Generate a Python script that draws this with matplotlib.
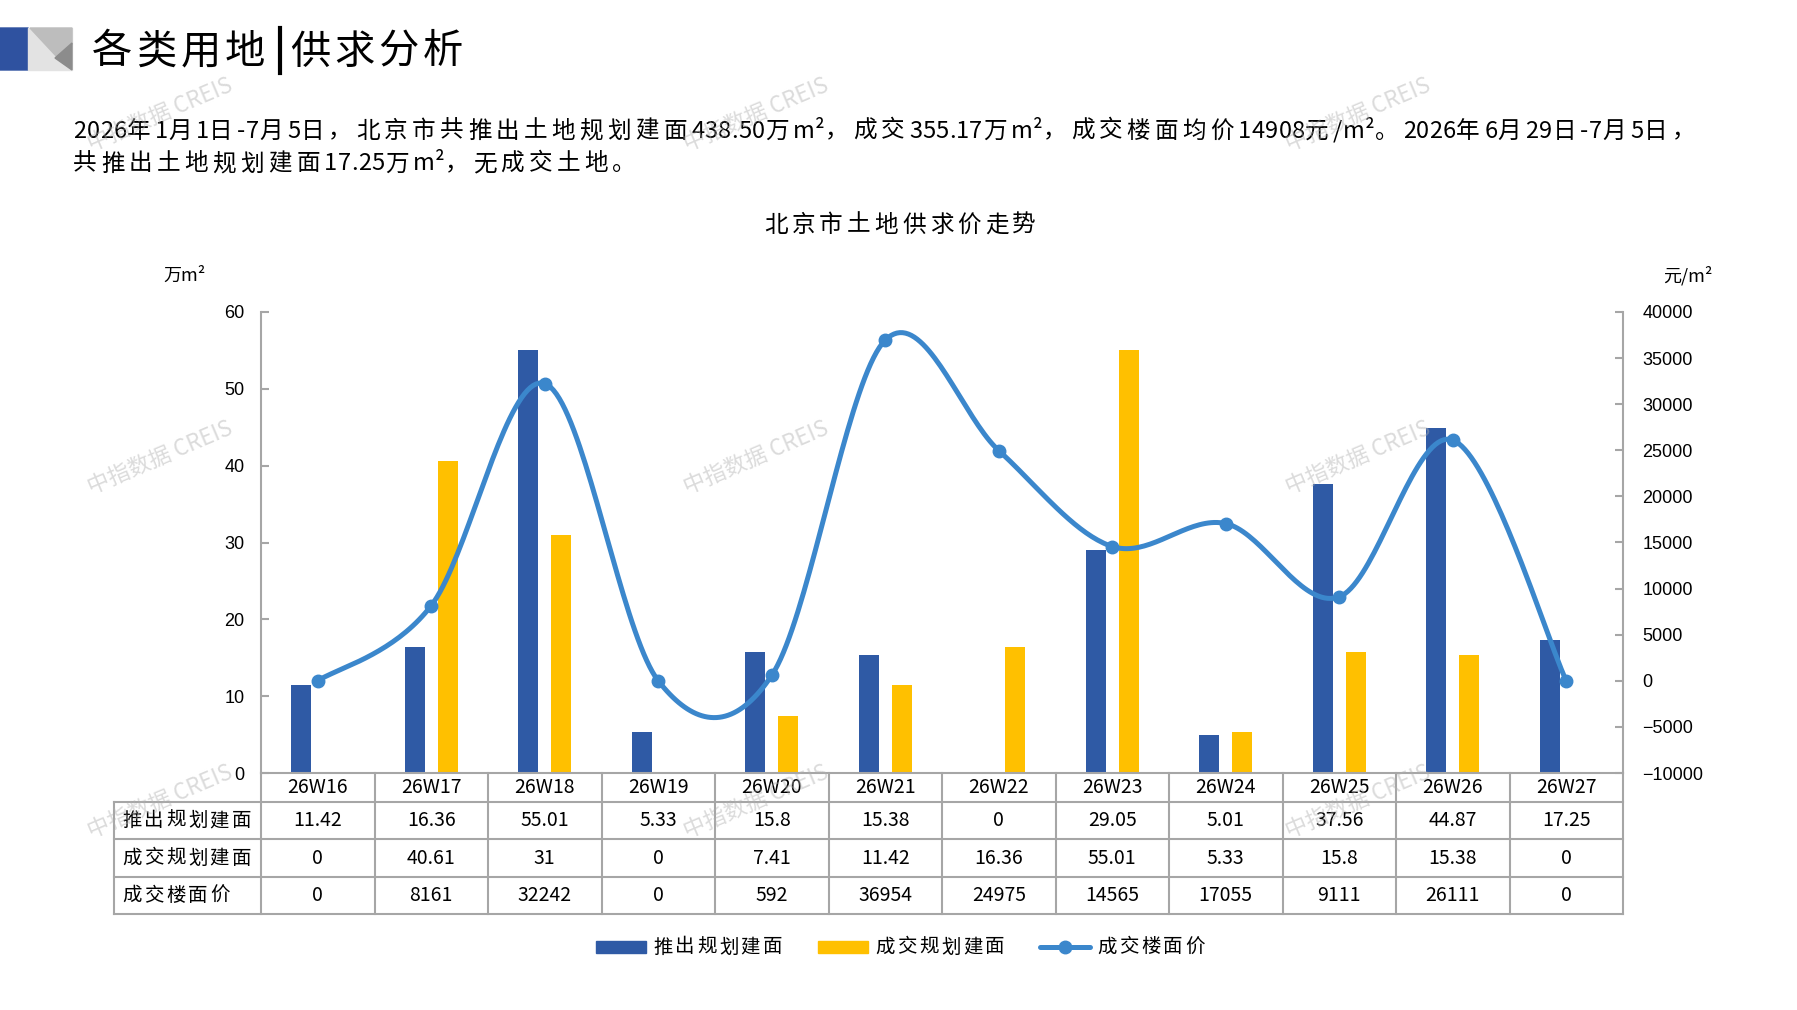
import numpy as np
import matplotlib
matplotlib.use('Agg')
import matplotlib.pyplot as plt
from matplotlib.patches import Polygon, Rectangle
from matplotlib import font_manager
from matplotlib.ft2font import FT2Font
from matplotlib.transforms import blended_transform_factory

plt.rcParams['font.family'] = ['Noto Sans CJK SC', 'DejaVu Sans']

# 数据
weeks = ['26W16', '26W17', '26W18', '26W19', '26W20', '26W21',
         '26W22', '26W23', '26W24', '26W25', '26W26', '26W27']
supply_area = [11.42, 16.36, 55.01, 5.33, 15.8, 15.38, 0, 29.05, 5.01, 37.56, 44.87, 17.25]
deal_area = [0, 40.61, 31, 0, 7.41, 11.42, 16.36, 55.01, 5.33, 15.8, 15.38, 0]
deal_price = [0, 8161, 32242, 0, 592, 36954, 24975, 14565, 17055, 9111, 26111, 0]
row_labels = ['推出规划建面', '成交规划建面', '成交楼面价']
series_names = ['推出规划建面', '成交规划建面', '成交楼面价']

title_left = '各类用地'
title_right = '供求分析'
para_1 = '2026年1月1日-7月5日，北京市共推出土地规划建面438.50万m²，成交355.17万m²，成交楼面均价14908元/m²。2026年6月29日-7月5日，'
para_2 = '共推出土地规划建面17.25万m²，无成交土地。'
chart_title = '北京市土地供求价走势'

c_blue = '#2F5AA5'
c_yellow = '#FFC000'
c_line = '#3B87CC'
c_grid = '#A6A6A6'

W, H = 1797, 1010
DPI = 100
fig = plt.figure(figsize=(W / DPI, H / DPI), dpi=DPI)

# 主图位置（像素）
ax_l, ax_r, ax_t, ax_b = 261, 1623, 312, 773
ax = fig.add_axes([ax_l / W, 1 - ax_b / H, (ax_r - ax_l) / W, (ax_b - ax_t) / H])
ax2 = ax.twinx()

x = np.arange(len(weeks))
bw = 0.176
off = 0.145
ax.bar(x - off, supply_area, width=bw, color=c_blue, zorder=2)
ax.bar(x + off, deal_area, width=bw, color=c_yellow, zorder=2)
ax.set_xlim(-0.5, len(weeks) - 0.5)
ax.set_ylim(0, 60)
ax.set_yticks(range(0, 61, 10))
ax.set_xticks([])


# 平滑曲线 (Catmull-Rom)
def smooth(xs, ys, n=40):
    xs = np.asarray(xs, float)
    ys = np.asarray(ys, float)
    px = np.concatenate([[xs[0]], xs, [xs[-1]]])
    py = np.concatenate([[ys[0]], ys, [ys[-1]]])
    out_x, out_y = [], []
    t = np.linspace(0, 1, n)
    for i in range(1, len(px) - 2):
        p0 = np.array([px[i], py[i]])
        p3 = np.array([px[i + 1], py[i + 1]])
        c1 = p0 + (p3 - np.array([px[i - 1], py[i - 1]])) / 6
        c2 = p3 - (np.array([px[i + 2], py[i + 2]]) - p0) / 6
        b = ((1 - t) ** 3)[:, None] * p0 + (3 * (1 - t) ** 2 * t)[:, None] * c1 \
            + (3 * (1 - t) * t ** 2)[:, None] * c2 + (t ** 3)[:, None] * p3
        out_x.extend(b[:, 0])
        out_y.extend(b[:, 1])
    return out_x, out_y


sx, sy = smooth(x, deal_price)
ax2.plot(sx, sy, color=c_line, lw=3.6, solid_capstyle='round', zorder=3)
ax2.plot(x, deal_price, 'o', color=c_line, ms=9, zorder=4)
ax2.set_ylim(-10000, 40000)
ax2.set_yticks(range(-10000, 40001, 5000))

for a in (ax, ax2):
    a.spines['top'].set_visible(False)
    for s in a.spines.values():
        s.set_color(c_grid)
        s.set_linewidth(1.5)
ax.spines['right'].set_visible(False)
ax2.spines['left'].set_visible(False)
ax2.spines['bottom'].set_visible(False)
ax.tick_params(axis='y', direction='in', length=6, width=1.5, color=c_grid,
               labelsize=13, pad=12)
ax2.tick_params(axis='y', direction='in', length=6, width=1.5, color=c_grid,
                labelsize=13, pad=14)
for lab in ax.get_yticklabels() + ax2.get_yticklabels():
    lab.set_fontfamily('Liberation Sans')

# 覆盖层（像素坐标）
ov = fig.add_axes([0, 0, 1, 1], zorder=5)
ov.set_xlim(0, W)
ov.set_ylim(H, 0)
ov.axis('off')
tr = blended_transform_factory(ax.transData, ov.transData)

# 字距加宽的文字
cjk_font = FT2Font(font_manager.findfont('Noto Sans CJK SC'))


def advance(ch, size):
    cjk_font.set_size(size, DPI)
    g = cjk_font.load_char(ord(ch))
    return g.linearHoriAdvance / 65536


def spaced(x0, y0, s, size, gap_cjk, gap_other=0.0, align='left', **kw):
    gaps = [gap_cjk if ord(c) > 0x2E80 else gap_other for c in s]
    widths = [advance(c, size) for c in s]
    total = sum(widths) + sum(gaps[:-1])
    if align == 'center':
        x0 -= total / 2
    xc = x0
    for c, w, g in zip(s, widths, gaps):
        ov.text(xc, y0, c, fontsize=size, ha='left', va='center', **kw)
        xc += w + g
    return x0 + total


# 表格
tab_l = 114
rows_y = [773, 802, 839, 877, 914]
for yy in rows_y[1:]:
    ov.plot([tab_l, ax_r], [yy, yy], color=c_grid, lw=1.5)
ov.plot([tab_l, tab_l], [rows_y[1], rows_y[-1]], color=c_grid, lw=1.5)
for k in range(len(weeks) + 1):
    ov.plot([k - 0.5, k - 0.5], [rows_y[0], rows_y[-1]], color=c_grid, lw=1.5,
            transform=tr)
for i, wk in enumerate(weeks):
    ov.text(i, (rows_y[0] + rows_y[1]) / 2, wk, transform=tr, ha='center',
            va='center', fontsize=14)
table_rows = [supply_area, deal_area, deal_price]
for r, vals in enumerate(table_rows):
    yc = (rows_y[r + 1] + rows_y[r + 2]) / 2
    spaced(tab_l + 8, yc, row_labels[r], 14, 2.5)
    for i, v in enumerate(vals):
        ov.text(i, yc, '{:g}'.format(v), transform=tr, ha='center',
                va='center', fontsize=14)

# 标题区
ov.add_patch(Polygon([(0, 28), (28, 28), (33, 49), (28, 70), (0, 70)],
                     closed=True, color='#2F52A0'))
ov.add_patch(Polygon([(28, 28), (72, 28), (72, 70), (28, 70)], closed=True,
                     color='#E3E3E3'))
ov.add_patch(Polygon([(30, 28), (72, 28), (72, 44), (57, 57)], closed=True,
                     color='#BDBDBD'))
ov.add_patch(Polygon([(72, 43), (55, 58), (72, 70)], closed=True,
                     color='#8C8C8C'))
spaced(92, 52, title_left, 29, 4)
ov.plot([280, 280], [28, 73], color='black', lw=3)
spaced(290, 52, title_right, 29, 4)

spaced(73, 131, para_1, 17, 4.3, 0.3)
spaced(73, 164, para_2, 17, 4.3, 0.3)
spaced(900, 225, chart_title, 17, 4, align='center')
ov.text(185, 276, '万m²', ha='center', va='center', fontsize=13)
ov.text(1688, 276, '元/m²', ha='center', va='center', fontsize=13)

# 图例
lx = 596
ly = 947
for k, name in enumerate(series_names):
    if k < 2:
        ov.add_patch(Rectangle((lx, ly - 6), 50, 12,
                               color=[c_blue, c_yellow][k]))
    else:
        ov.plot([lx, lx + 50], [ly, ly], color=c_line, lw=3.6,
                solid_capstyle='round')
        ov.plot([lx + 25], [ly], 'o', color=c_line, ms=9)
    lx = spaced(lx + 57, ly, name, 14, 2.5) + 36

# 水印
for wx in (160, 756, 1358):
    for wy in (115, 458, 802):
        ov.text(wx, wy, '中指数据 CREIS', ha='center', va='center', fontsize=16,
                rotation=23, color='#B0B0B0', alpha=0.45, zorder=10)

plt.savefig('out.png', dpi=DPI)
